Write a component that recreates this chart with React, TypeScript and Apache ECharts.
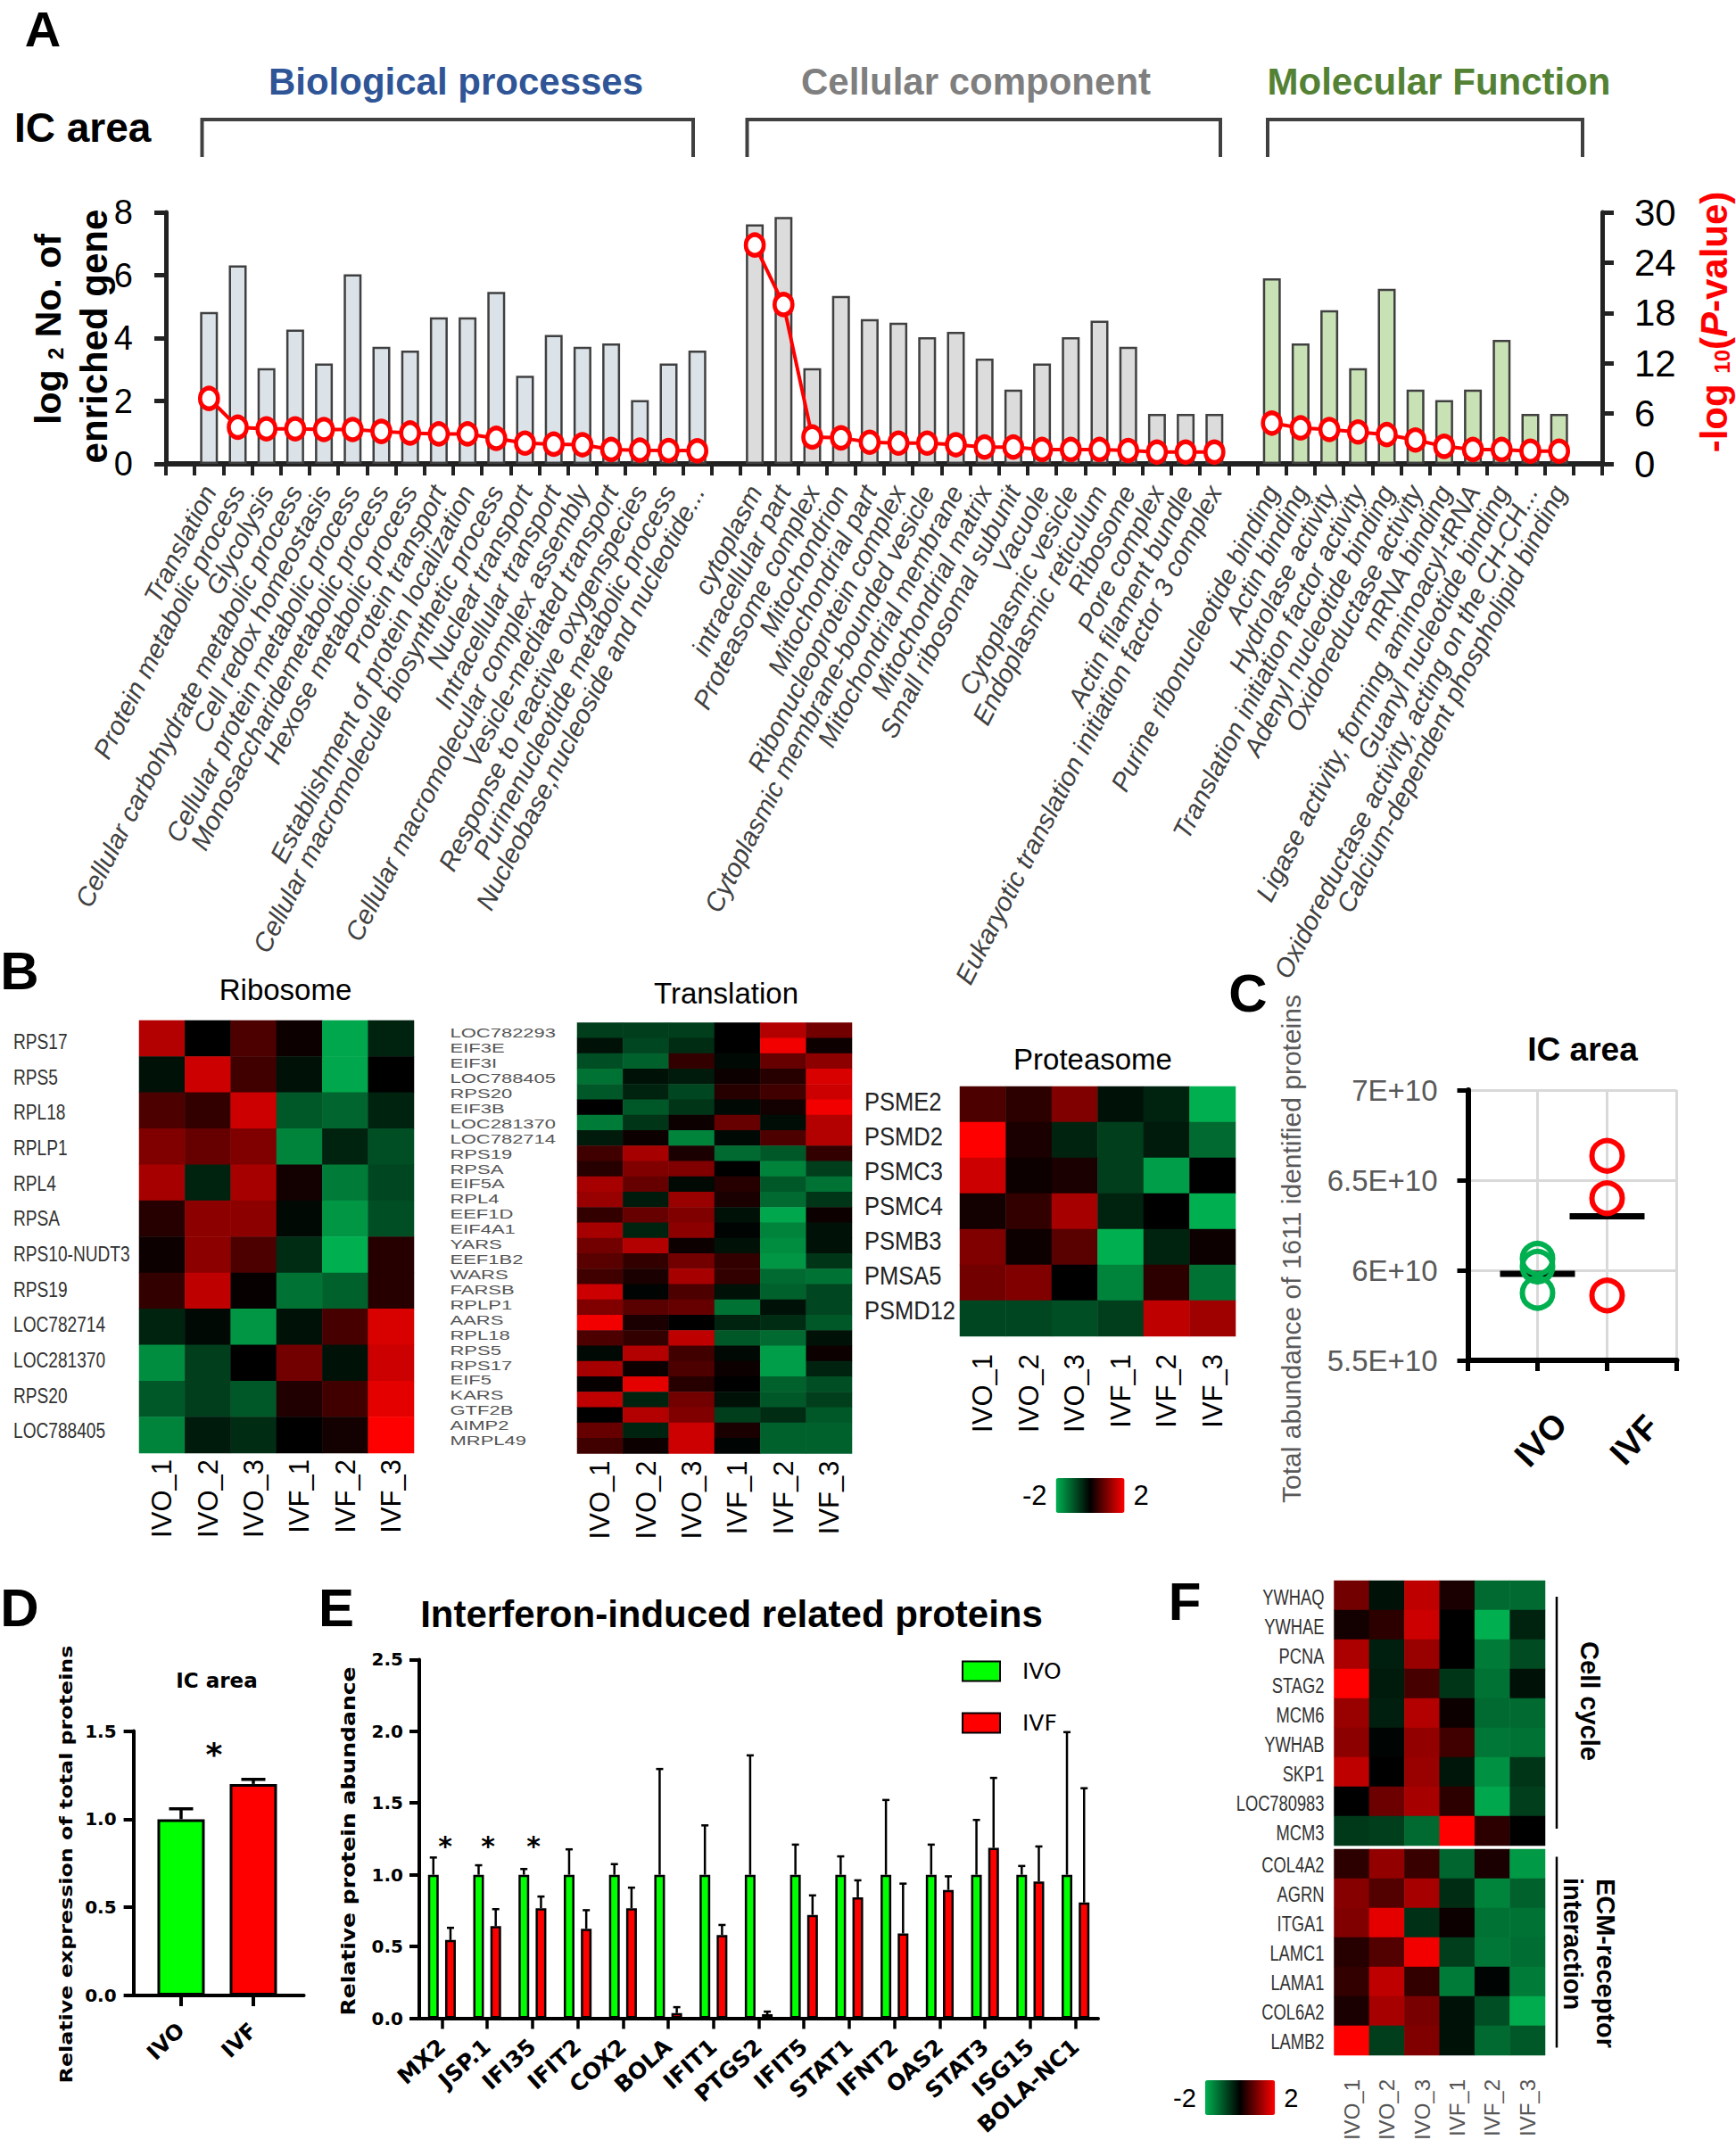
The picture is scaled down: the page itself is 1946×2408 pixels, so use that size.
import React, { useEffect, useRef } from "react";
import * as echarts from "echarts";

const SANS = '"Liberation Sans", Arial, sans-serif';
const DEJA = '"DejaVu Sans", sans-serif';

// ---------- Panel A ----------
const bpLabels = ["Translation","Protein metabolic process","Glycolysis","Cellular carbohydrate metabolic process","Cell redox homeostasis","Cellular protein metabolic process","Monosaccharidemetabolic process","Hexose metabolic process","Protein transport","Establishment of protein localization","Cellular macromolecule biosynthetic process","Nuclear transport","Intracellular transport","Cellular macromolecular complex assembly","Vesicle-mediated transport","Response to reactive oxygenspecies","Purinenucleotide metabolic process","Nucleobase,nucleoside and nucleotide..."];
const ccLabels = ["cytoplasm","intracellular part","Proteasome complex","Mitochondrion","Mitochondrial part","Ribonucleoprotein complex","Cytoplasmic membrane-bounded vesicle","Mitochondrial membrane","Mitochondrial matrix","Small ribosomal subunit","Vacuole","Cytoplasmic vesicle","Endoplasmic reticulum","Ribosome","Pore complex","Actin filament bundle","Eukaryotic translation initiation factor 3 complex"];
const mfLabels = ["Purine ribonucleotide binding","Actin binding","Hydrolase activity","Translation initiation factor activity","Adenyl nucleotide binding","Oxidoreductase activity","mRNA binding","Ligase activity, forming aminoacyl-tRNA","Guanyl nucleotide binding","Oxidoreductase activity, acting on the CH-CH...","Calcium-dependent phospholipid binding"];
const bpGenes = [4.83,6.31,3.04,4.27,3.19,6.03,3.72,3.6,4.66,4.66,5.47,2.8,4.1,3.72,3.83,2.03,3.19,3.6];
const ccGenes = [7.62,7.85,3.04,5.34,4.6,4.49,4.03,4.2,3.35,2.36,3.19,4.03,4.55,3.72,1.59,1.59,1.59];
const mfGenes = [5.9,3.83,4.89,3.04,5.57,2.36,2.03,2.36,3.94,1.59,1.59];
const bpP = [7.8,4.37,4.18,4.18,4.1,4.1,3.87,3.68,3.57,3.57,3.04,2.47,2.35,2.28,1.71,1.63,1.6,1.56];
const ccP = [26.1,19,3.2,3.1,2.58,2.47,2.47,2.28,2.0,2.0,1.71,1.71,1.71,1.6,1.4,1.4,1.4];
const mfP = [4.86,4.29,4.1,3.8,3.49,2.85,2.09,1.71,1.71,1.52,1.52];

// ---------- Panels B / F heatmaps ----------
const samples = ["IVO_1","IVO_2","IVO_3","IVF_1","IVF_2","IVF_3"];
const riboGenes = ["RPS17","RPS5","RPL18","RPLP1","RPL4","RPSA","RPS10-NUDT3","RPS19","LOC782714","LOC281370","RPS20","LOC788405"];
const riboValues = [
  [1.4,0,.6,.1,-1.9,-.4],[-.2,1.6,.5,-.2,-1.9,0],[.6,.4,1.6,-1,-1.15,-.4],[1,.8,1,-1.5,-.4,-.9],
  [1.3,-.4,1.3,.15,-1.4,-.8],[.3,1.1,1.1,-.1,-1.7,-.9],[.1,1.1,.6,-.5,-2,.3],[.4,1.5,.05,-1.3,-1.1,.3],
  [-.4,-.1,-1.7,-.2,.55,1.7],[-1.6,-.7,0,.9,-.2,1.6],[-1,-.7,-1,.25,.5,1.8],[-1.5,-.3,-.5,0,.15,2],
];
const transGenes = ["LOC782293","EIF3E","EIF3I","LOC788405","RPS20","EIF3B","LOC281370","LOC782714","RPS19","RPSA","EIF5A","RPL4","EEF1D","EIF4A1","YARS","EEF1B2","WARS","FARSB","RPLP1","AARS","RPL18","RPS5","RPS17","EIF5","KARS","GTF2B","AIMP2","MRPL49"];
const transValues = [
  [-.7,-.7,-.7,0,1.4,.9],[-.2,-.8,-.5,0,1.9,.1],[-.9,-1.1,.4,-.1,.8,1.1],[-1.3,-.2,-.3,.1,.3,1.7],
  [-1,-.4,-.8,.3,.5,1.6],[0,-1,-.6,-.1,.15,1.9],[-1.4,-.6,.1,.8,-.15,1.4],[-.3,.1,-1.5,-.1,.6,1.4],
  [.5,1.3,.2,-1.2,-1,.4],[.3,1,1,0,-1.5,-.7],[1.3,.8,-.1,.3,-1,-1.3],[1.2,-.3,1.2,.2,-1.2,-.6],
  [.4,.8,1,-.2,-1.9,.1],[1.3,-.4,1.1,-.05,-1.5,-.2],[.9,1.4,.1,-.2,-1.6,-.2],[.7,.4,.9,.4,-1.7,-.6],
  [.5,.2,1.3,.4,-1.2,-1.3],[1.6,-.05,.6,-.2,-1.1,-.8],[1,.7,.8,-1.3,-.2,-.8],[1.9,.2,0,-.4,-.5,-1],
  [.6,.4,1.5,-1,-1.2,-.2],[-.1,1.4,.5,-.1,-1.8,.1],[1.3,.1,.6,.1,-1.8,-.4],[.05,1.8,.3,0,-1.1,-.9],
  [1.5,-.4,.9,-.2,-1,-.7],[0,1.4,1,-.7,-.5,-1],[.8,-.4,1.6,.2,-1.1,-1.1],[.5,.1,1.6,-.05,-1.1,-1.1],
];
const protGenes = ["PSME2","PSMD2","PSMC3","PSMC4","PSMB3","PMSA5","PSMD12"];
const protValues = [
  [.6,.35,1,-.2,-.4,-2],[2,.2,-.4,-.7,-.3,-1.2],[1.6,.1,.2,-.7,-1.8,0],[.15,.4,1.3,-.4,0,-2],
  [1,.1,.7,-2,-.4,.1],[.9,1,0,-1.5,.35,-1.3],[-.8,-.8,-.9,-.7,1.5,1.25],
];
const cycleGenes = ["YWHAQ","YWHAE","PCNA","STAG2","MCM6","YWHAB","SKP1","LOC780983","MCM3"];
const cycleValues = [
  [.9,-.2,1.5,.2,-1.2,-1.2],[.15,.35,1.6,0,-2,-.4],[1.35,-.35,1.2,0,-1.4,-.85],[2,-.3,.55,-.6,-1.3,-.2],
  [1.2,-.35,1.4,.1,-1.2,-1.2],[1.1,-.05,1.15,.5,-1.35,-1.3],[1.5,0,1.2,-.25,-1.65,-.6],[0,.85,1.3,.35,-1.9,-.7],
  [-.65,-.7,-1.2,2,.35,0],
];
const ecmGenes = ["COL4A2","AGRN","ITGA1","LAMC1","LAMA1","COL6A2","LAMB2"];
const ecmValues = [
  [.35,1.15,.45,-1.15,.2,-1.75],[1.05,.65,1.3,-.5,-1.5,-1.1],[1,1.8,-.55,.1,-1.3,-1.3],[.3,.65,1.9,-.7,-1.35,-1.25],
  [.4,1.5,.4,-1.4,-.05,-1.4],[.2,1.3,.95,-.2,-.9,-1.95],[2,-.7,1,-.2,-1.2,-1],
];

// ---------- Panel C ----------
const ivoAbundance = [6.064,6.02,5.874];
const ivfAbundance = [6.635,6.4,5.86];
const abundanceMeans = [5.98,6.3];

// ---------- Panel D ----------
const totalGroups = ["IVO","IVF"];
const totalValues = [1.0,1.2];
const totalErrTops = [1.059,1.226];

// ---------- Panel E ----------
const ifnGenes = ["MX2","JSP.1","IFI35","IFIT2","COX2","BOLA","IFIT1","PTGS2","IFIT5","STAT1","IFNT2","OAS2","STAT3","ISG15","BOLA-NC1"];
const ifnIvo = [1,1,1,1,1,1,1,1,1,1,1,1,1,1,1];
const ifnIvoErr = [1.12,1.066,1.04,1.177,1.074,1.737,1.344,1.832,1.21,1.128,1.521,1.21,1.382,1.061,1.994];
const ifnIvf = [.545,.642,.766,.624,.766,.036,.58,.028,.72,.843,.591,.894,1.187,.953,.807];
const ifnIvfErr = [.63,.76,.848,.753,.91,.077,.65,.046,.856,.961,.938,.989,1.675,1.197,1.603];

const GREEN = "#00b050";
const heatColors = [GREEN, "#000000", "#ff0000"];

function T(text: string, x: number, y: number, style: any, rot = 0, extra: any = {}) {
  return {
    type: "text", x, y, rotation: (rot * Math.PI) / 180, z: 50,
    style: { text, align: "center", verticalAlign: "middle", fill: "#000", fontFamily: SANS, ...style },
    ...extra,
  };
}
const bracket = (x1: number, x2: number, y1: number, y2: number) => ({
  type: "polyline", z: 40,
  shape: { points: [[x1, y2], [x1, y1], [x2, y1], [x2, y2]] },
  style: { stroke: "#404040", lineWidth: 4, fill: "none" },
});
const vline = (x: number, y1: number, y2: number) => ({
  type: "line", z: 40, shape: { x1: x, y1, x2: x, y2 }, style: { stroke: "#000", lineWidth: 2.5 },
});

function errBar(offset: number, capHalf: number, lw: number) {
  return (_p: any, api: any) => {
    const a = api.coord([api.value(0), api.value(1)]);
    const b = api.coord([api.value(0), api.value(2)]);
    const cx = a[0] + offset;
    const st = { stroke: "#000", lineWidth: lw };
    return {
      type: "group",
      children: [
        { type: "line", shape: { x1: cx, y1: a[1], x2: cx, y2: b[1] }, style: st },
        { type: "line", shape: { x1: cx - capHalf, y1: b[1], x2: cx + capHalf, y2: b[1] }, style: st },
      ],
    };
  };
}

function buildOption() {
  const grids: any[] = [];
  const xAxes: any[] = [];
  const yAxes: any[] = [];
  const series: any[] = [];
  const rowTexts: any[] = [];

  // ---- A ----
  const gA = grids.push({ left: 186, top: 238, width: 1610, height: 282 }) - 1;
  const cats = ["", ...bpLabels, " ", ...ccLabels, "  ", ...mfLabels, "   "];
  const blankB = new Array(bpGenes.length).fill(null);
  const blankC = new Array(ccGenes.length).fill(null);
  const blankM = new Array(mfGenes.length).fill(null);
  const layout = (b: any[], c: any[], m: any[]) => [null, ...b, null, ...c, null, ...m, null];
  const xA = xAxes.push({
    type: "category", gridIndex: gA, data: cats,
    axisLine: { lineStyle: { color: "#222", width: 6 } },
    axisTick: { show: true, interval: 0, length: 13, lineStyle: { color: "#222", width: 4 }, alignWithLabel: false },
    axisLabel: { interval: 0, rotate: 63, margin: 26, fontFamily: SANS, fontStyle: "italic", fontSize: 29.5, color: "#404040", hideOverlap: false },
  }) - 1;
  const yA = yAxes.push({
    type: "value", gridIndex: gA, min: 0, max: 8, interval: 2, splitLine: { show: false },
    axisLine: { show: true, lineStyle: { color: "#222", width: 5 } },
    axisTick: { show: true, length: 13, lineStyle: { color: "#222", width: 5 } },
    axisLabel: { margin: 37, fontFamily: SANS, fontSize: 38, color: "#000" },
  }) - 1;
  const yA2 = yAxes.push({
    type: "value", gridIndex: gA, position: "right", min: 0, max: 30, interval: 6, splitLine: { show: false },
    axisLine: { show: true, lineStyle: { color: "#222", width: 5 } },
    axisTick: { show: true, length: 13, lineStyle: { color: "#222", width: 5 } },
    axisLabel: { margin: 36, fontFamily: SANS, fontSize: 42, color: "#000", padding: [0, 0, 6, 0] },
  }) - 1;
  const barA = (name: string, data: any[], color: string) => ({
    type: "bar", name, xAxisIndex: xA, yAxisIndex: yA, data, barWidth: 20, barGap: "-100%",
    itemStyle: { color, borderColor: "#404040", borderWidth: 2.5 },
  });
  series.push(barA("Biological processes", layout(bpGenes, blankC, blankM), "#dbe3e8"));
  series.push(barA("Cellular component", layout(blankB, ccGenes, blankM), "#dcdcdc"));
  series.push(barA("Molecular Function", layout(blankB, blankC, mfGenes), "#c9e2b5"));
  series.push({
    type: "line", name: "P-value", xAxisIndex: xA, yAxisIndex: yA2, data: layout(bpP, ccP, mfP), z: 5,
    connectNulls: false, symbol: "circle", symbolSize: [20, 23], showSymbol: true, clip: false,
    lineStyle: { color: "#ff0000", width: 4 },
    itemStyle: { color: "#ffffff", borderColor: "#ff0000", borderWidth: 5 },
  });

  // ---- heatmaps ----
  const heatIdx: number[][] = [[], []];
  const heat = (
    box: { left: number; top: number; width: number; height: number },
    genes: string[], values: number[][], group: number,
    rowLabel: { x: number; y0: number; y1: number; align: string; style: any; extra: any }, colLabel: any,
  ) => {
    const g = grids.push(box) - 1;
    const x = xAxes.push({
      type: "category", gridIndex: g, data: samples,
      axisLine: { show: false }, axisTick: { show: false }, splitArea: { show: false }, splitLine: { show: false },
      axisLabel: colLabel ? { interval: 0, rotate: 90, ...colLabel } : { show: false },
    }) - 1;
    const y = yAxes.push({
      type: "category", gridIndex: g, data: genes, inverse: true,
      axisLine: { show: false }, axisTick: { show: false }, splitArea: { show: false }, splitLine: { show: false },
      axisLabel: { show: false },
    }) - 1;
    genes.forEach((name, r) => {
      rowTexts.push(T(name, rowLabel.x, rowLabel.y0 + (r * (rowLabel.y1 - rowLabel.y0)) / (genes.length - 1),
        { align: rowLabel.align, ...rowLabel.style }, 0, rowLabel.extra));
    });
    const data: number[][] = [];
    values.forEach((row, r) => row.forEach((v, c) => data.push([c, r, v])));
    heatIdx[group].push(series.length);
    series.push({ type: "heatmap", xAxisIndex: x, yAxisIndex: y, data, itemStyle: { borderWidth: 0 }, emphasis: { disabled: true } });
  };
  const colBig = (margin: number, fontSize = 31) => ({ margin, fontFamily: SANS, fontSize, color: "#000" });
  heat({ left: 156, top: 1144, width: 308, height: 485 }, riboGenes, riboValues, 0,
    { x: 15, y0: 1167.5, y1: 1604, align: "left", style: { fontSize: 24.5, fill: "#333" }, extra: { scaleX: 0.78 } }, colBig(7));
  heat({ left: 647, top: 1146.5, width: 308, height: 483 }, transGenes, transValues, 0,
    { x: 504.5, y0: 1158, y1: 1615, align: "left", style: { fontSize: 22, fill: "#555" }, extra: { scaleY: 0.68 } }, colBig(8));
  heat({ left: 1076, top: 1218, width: 309, height: 280 }, protGenes, protValues, 0,
    { x: 969, y0: 1235, y1: 1469, align: "left", style: { fontSize: 30, fill: "#222" }, extra: { scaleX: 0.85 } }, colBig(20));
  heat({ left: 1495.5, top: 1772, width: 236.5, height: 297 }, cycleGenes, cycleValues, 1,
    { x: 1484.5, y0: 1791, y1: 2055, align: "right", style: { fontSize: 23.5, fill: "#333" }, extra: { scaleX: 0.78 } }, null);
  heat({ left: 1495.5, top: 2073, width: 236.5, height: 231 }, ecmGenes, ecmValues, 1,
    { x: 1484.5, y0: 2091, y1: 2289, align: "right", style: { fontSize: 23.5, fill: "#333" }, extra: { scaleX: 0.78 } },
    { margin: 27, fontFamily: SANS, fontSize: 24, color: "#555" });

  // ---- C ----
  const gC = grids.push({ left: 1645.5, top: 1222, width: 234, height: 303 }) - 1;
  const xC = xAxes.push({
    type: "value", gridIndex: gC, min: 0, max: 3, interval: 1,
    axisLine: { lineStyle: { color: "#000", width: 6 } },
    axisTick: { show: true, length: 12, lineStyle: { color: "#000", width: 5 } },
    splitLine: { show: true, lineStyle: { color: "#d9d9d9", width: 3 } },
    axisLabel: { show: false },
  }) - 1;
  const yC = yAxes.push({
    type: "value", gridIndex: gC, min: 5.5, max: 7, interval: 0.5,
    axisLine: { show: true, lineStyle: { color: "#000", width: 6 } },
    axisTick: { show: true, length: 12, lineStyle: { color: "#000", width: 5 } },
    splitLine: { show: true, lineStyle: { color: "#d9d9d9", width: 3 } },
    axisLabel: { margin: 34, fontFamily: SANS, fontSize: 33, color: "#595959", formatter: (v: number) => `${v}E+10` },
  }) - 1;
  const ring = (name: string, x: number, vals: number[], color: string) => ({
    type: "scatter", name, xAxisIndex: xC, yAxisIndex: yC, z: 4, symbol: "circle", symbolSize: 34,
    data: vals.map((v) => [x, v]), clip: false,
    itemStyle: { color: "rgba(255,255,255,0)", borderColor: color, borderWidth: 6, opacity: 1 },
  });
  series.push({
    type: "scatter", name: "mean", xAxisIndex: xC, yAxisIndex: yC, z: 3, symbol: "rect", symbolSize: [84, 7],
    data: abundanceMeans.map((v, i) => [i + 1, v]), itemStyle: { color: "#000", opacity: 1 }, clip: false,
  });
  series.push(ring("IVO abundance", 1, ivoAbundance, GREEN));
  series.push(ring("IVF abundance", 2, ivfAbundance, "#ff0000"));

  // ---- D ----
  const gD = grids.push({ left: 149.6, top: 1940.6, width: 191, height: 296.4 }) - 1;
  const boldTick = (margin: number, fontSize = 20) => ({ margin, fontFamily: DEJA, fontWeight: "bold", fontSize, color: "#000" });
  const xD = xAxes.push({
    type: "value", gridIndex: gD, min: 0.341, max: 2.699, splitLine: { show: false },
    axisLine: { lineStyle: { color: "#000", width: 4 } },
    axisTick: { show: true, length: 12, customValues: [1, 2], lineStyle: { color: "#000", width: 4 } },
    axisLabel: { ...boldTick(35, 24), rotate: 44, customValues: [1, 2], formatter: (v: number) => totalGroups[v - 1] },
  }) - 1;
  const yD = yAxes.push({
    type: "value", gridIndex: gD, min: 0, max: 1.5, interval: 0.5, splitLine: { show: false },
    axisLine: { show: true, lineStyle: { color: "#000", width: 4 } },
    axisTick: { show: true, length: 11, lineStyle: { color: "#000", width: 4 } },
    axisLabel: { ...boldTick(19, 20), formatter: (v: number) => v.toFixed(1) },
  }) - 1;
  series.push({
    type: "custom", name: "total error", xAxisIndex: xD, yAxisIndex: yD, z: 1,
    data: totalValues.map((v, i) => [i + 1, v, totalErrTops[i]]), encode: { x: 0, y: [1, 2] },
    renderItem: errBar(0, 13.5, 3.5),
  });
  series.push({
    type: "bar", name: "total", xAxisIndex: xD, yAxisIndex: yD, z: 2, barWidth: 53,
    data: totalValues.map((v, i) => ({ value: [i + 1, v], itemStyle: { color: i ? "#ff0000" : "#00ff00" } })),
    itemStyle: { borderColor: "#000", borderWidth: 3 },
  });

  // ---- E ----
  const gE = grids.push({ left: 470, top: 1860.4, width: 761, height: 402.1 }) - 1;
  const xE = xAxes.push({
    type: "category", gridIndex: gE, data: ifnGenes,
    axisLine: { lineStyle: { color: "#000", width: 4 } },
    axisTick: { show: true, alignWithLabel: true, length: 12, lineStyle: { color: "#000", width: 3.5 } },
    axisLabel: { ...boldTick(28, 25), interval: 0, rotate: 42 },
  }) - 1;
  const yE = yAxes.push({
    type: "value", gridIndex: gE, min: 0, max: 2.5, interval: 0.5, splitLine: { show: false },
    axisLine: { show: true, lineStyle: { color: "#000", width: 4 } },
    axisTick: { show: true, length: 11, lineStyle: { color: "#000", width: 4 } },
    axisLabel: { ...boldTick(18, 20), formatter: (v: number) => v.toFixed(1) },
  }) - 1;
  series.push({
    type: "custom", name: "IVO error", xAxisIndex: xE, yAxisIndex: yE, z: 1,
    data: ifnIvo.map((v, i) => [i, v, ifnIvoErr[i]]), encode: { x: 0, y: [1, 2] },
    renderItem: errBar(-9.6, 4, 2.5),
  });
  series.push({
    type: "custom", name: "IVF error", xAxisIndex: xE, yAxisIndex: yE, z: 1,
    data: ifnIvf.map((v, i) => [i, v, ifnIvfErr[i]]), encode: { x: 0, y: [1, 2] },
    renderItem: errBar(9.6, 4, 2.5),
  });
  const barE = (name: string, data: number[], color: string) => ({
    type: "bar", name, xAxisIndex: xE, yAxisIndex: yE, data, z: 2, barWidth: 12, barGap: "60%",
    itemStyle: { color, borderColor: "#000", borderWidth: 2.5 },
  });
  series.push(barE("IVO", ifnIvo, "#00ff00"));
  series.push(barE("IVF", ifnIvf, "#ff0000"));

  const vmBase = {
    type: "continuous", min: -2, max: 2, orient: "horizontal", calculable: false, realtime: false, padding: 0,
    itemWidth: 39, dimension: 2, inRange: { color: heatColors }, hoverLink: false, text: ["2", "-2"], textGap: 10,
  };

  const big = { fontWeight: "bold", fontSize: 60 };
  const sub = (fontSize: number, fontWeight: string, fill: string) => ({ fontSize, fontWeight, fontFamily: SANS, fill, verticalAlign: "bottom" });
  const graphic: any[] = [
    T("A", 48, 32, { ...big, fontSize: 56 }), T("B", 22, 1088, big), T("C", 1399, 1113, big),
    T("D", 22, 1802, big), T("E", 377, 1802, big), T("F", 1328, 1795, big),
    T("IC area", 16, 143, { fontWeight: "bold", fontSize: 46, align: "left" }),
    T("Biological processes", 511, 91, { fontWeight: "bold", fontSize: 42, fill: "#2f5597" }),
    T("Cellular component", 1094, 91, { fontWeight: "bold", fontSize: 42, fill: "#7f7f7f" }),
    T("Molecular Function", 1613, 91, { fontWeight: "bold", fontSize: 42, fill: "#548235" }),
    bracket(226.5, 777, 134, 176), bracket(837.5, 1368, 134, 176), bracket(1421, 1774, 134, 176),
    T("{a|log }{b|2}{a| No. of}", 54, 369, { rich: { a: { fontSize: 41, fontWeight: "bold", fontFamily: SANS, fill: "#000" }, b: sub(24, "bold", "#000") } }, 90),
    T("enriched gene", 105, 377, { fontSize: 42, fontWeight: "bold" }, 90),
    T("{a|-log }{b|10}{a|(}{c|P}{a|-value)}", 1921, 361, { rich: { a: { fontSize: 42, fontWeight: "bold", fontFamily: SANS, fill: "#ff0000" }, b: sub(24, "bold", "#ff0000"), c: { fontSize: 42, fontWeight: "bold", fontStyle: "italic", fontFamily: SANS, fill: "#ff0000" } } }, 90),
    T("Ribosome", 320, 1109, { fontSize: 33 }),
    T("Translation", 814, 1113, { fontSize: 33 }),
    T("Proteasome", 1225, 1187, { fontSize: 33 }),
    T("IC area", 1774, 1176, { fontSize: 37, fontWeight: "bold" }),
    T(totalGroups[0], 1727, 1614, { fontSize: 38, fontWeight: "bold" }, 47),
    T(totalGroups[1], 1832, 1614, { fontSize: 38, fontWeight: "bold" }, 47),
    T("Total abundance of 1611 identified proteins", 1447, 1400, { fontSize: 30, fill: "#595959" }, 90),
    T("IC area", 243, 1884, { fontFamily: DEJA, fontSize: 23, fontWeight: "bold" }),
    T("*", 240, 1966, { fontFamily: DEJA, fontSize: 36, fontWeight: "bold" }),
    T("Relative expression of total proteins", 74, 2090, { fontFamily: DEJA, fontSize: 20, fontWeight: "bold" }, 90, { scaleX: 1.19 }),
    T("Interferon-induced related proteins", 820, 1809, { fontSize: 42, fontWeight: "bold" }),
    T("Relative protein abundance", 391, 2064, { fontFamily: DEJA, fontSize: 22, fontWeight: "bold" }, 90, { scaleX: 1.14 }),
    T("*", 499, 2069, { fontFamily: DEJA, fontSize: 30, fontWeight: "bold" }),
    T("*", 547, 2069, { fontFamily: DEJA, fontSize: 30, fontWeight: "bold" }),
    T("*", 598, 2069, { fontFamily: DEJA, fontSize: 30, fontWeight: "bold" }),
    vline(1745, 1790, 2050), vline(1745, 2081.5, 2295.5),
    T("Cell cycle", 1781.6, 1907, { fontSize: 29, fontWeight: "bold" }, -90),
    T("ECM-receptor", 1800, 2201, { fontSize: 29, fontWeight: "bold" }, -90),
    T("interaction", 1763, 2179, { fontSize: 29, fontWeight: "bold" }, -90),
    ...rowTexts,
  ];

  return {
    animation: false,
    backgroundColor: "#ffffff",
    grid: grids.map((g) => ({ ...g, containLabel: false, show: false })),
    xAxis: xAxes,
    yAxis: yAxes,
    series,
    legend: {
      data: [{ name: "IVO", icon: "rect" }, { name: "IVF", icon: "rect" }],
      orient: "vertical", left: 1078, top: 1861, padding: 0, itemWidth: 42, itemHeight: 22, itemGap: 33, selectedMode: false,
      textStyle: { fontFamily: DEJA, fontSize: 25, color: "#000", padding: [0, 0, 0, 20] },
    },
    visualMap: [
      { ...vmBase, seriesIndex: heatIdx[0], itemHeight: 77, left: 1146, top: 1657, textStyle: { fontFamily: SANS, fontSize: 31, color: "#000" } },
      { ...vmBase, seriesIndex: heatIdx[1], itemHeight: 78.5, left: 1315, top: 2332, textStyle: { fontFamily: SANS, fontSize: 29, color: "#000" } },
    ],
    graphic: { elements: graphic },
  };
}

export default function App() {
  const ref = useRef<HTMLDivElement>(null);
  useEffect(() => {
    const chart = echarts.init(ref.current!, undefined, { renderer: "svg" });
    chart.setOption(buildOption() as any);
    return () => chart.dispose();
  }, []);
  return <div ref={ref} style={{ position: "absolute", left: 0, top: 0, width: 1946, height: 2408 }} />;
}
